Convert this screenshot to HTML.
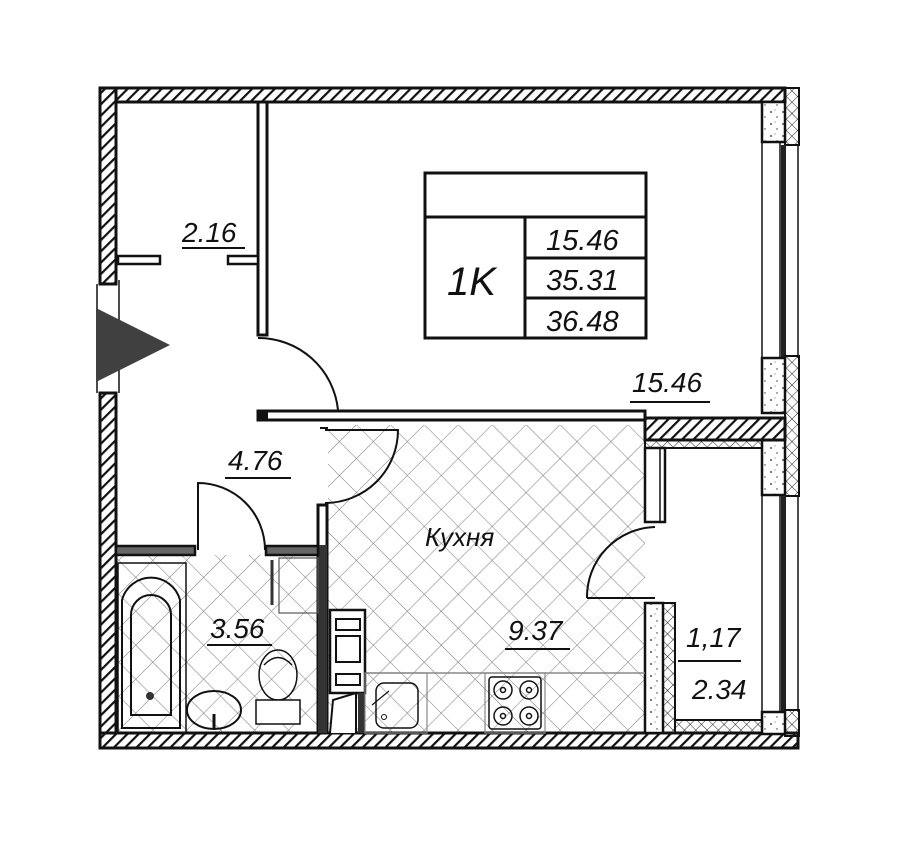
<!DOCTYPE html>
<html><head><meta charset="utf-8"><style>
html,body{margin:0;padding:0;background:#fff;}
svg{display:block;}
text{font-family:"Liberation Sans","DejaVu Sans",sans-serif;font-style:italic;fill:#111;}
</style></head><body>
<svg width="900" height="851" viewBox="0 0 900 851" xmlns="http://www.w3.org/2000/svg">
<defs>
<pattern id="h" width="8" height="8" patternUnits="userSpaceOnUse" patternTransform="rotate(45)">
<rect width="8" height="8" fill="#fff"/><rect width="2.2" height="8" fill="#111"/></pattern>
<pattern id="x" width="24" height="24" patternUnits="userSpaceOnUse" patternTransform="rotate(45)">
<path d="M0 0H24M0 0V24" stroke="#777" stroke-width="1" fill="none"/></pattern>
<pattern id="xs" width="8" height="8" patternUnits="userSpaceOnUse" patternTransform="rotate(45)">
<path d="M0 0H8M0 0V8" stroke="#222" stroke-width="1" fill="none"/></pattern>
<pattern id="c" width="12" height="12" patternUnits="userSpaceOnUse">
<rect width="12" height="12" fill="#fff"/><circle cx="3" cy="4" r="0.9" fill="#222"/><circle cx="9" cy="9" r="0.7" fill="#333"/><circle cx="7" cy="2" r="0.5" fill="#444"/></pattern>
</defs>
<rect x="328" y="425" width="317" height="308" fill="url(#x)"/>
<rect x="116" y="555" width="202" height="178" fill="url(#x)"/>
<rect x="100" y="88" width="685" height="14" fill="url(#h)" stroke="#111" stroke-width="3"/>
<rect x="100" y="88" width="16" height="196" fill="url(#h)" stroke="#111" stroke-width="3"/>
<rect x="100" y="393" width="16" height="355" fill="url(#h)" stroke="#111" stroke-width="3"/>
<path d="M97 284V393M119 280V393M100 284H116M100 393H116" stroke="#111" stroke-width="1.5" fill="none"/>
<rect x="100" y="733" width="698" height="15" fill="url(#h)" stroke="#111" stroke-width="3"/>
<rect x="785" y="88" width="14" height="57" fill="url(#xs)" stroke="#111" stroke-width="2"/>
<rect x="762" y="102" width="23" height="40" fill="url(#c)" stroke="#111" stroke-width="2.5"/>
<path d="M762 142V358M780 142V358M798 145V358" stroke="#111" stroke-width="1.5"/>
<rect x="781" y="145" width="5" height="213" fill="#222"/>
<rect x="785" y="356" width="14" height="140" fill="url(#xs)" stroke="#111" stroke-width="2"/>
<rect x="762" y="358" width="23" height="55" fill="url(#c)" stroke="#111" stroke-width="2.5"/>
<rect x="762" y="440" width="23" height="55" fill="url(#c)" stroke="#111" stroke-width="2.5"/>
<path d="M762 495V712M780 495V712M798 496V712" stroke="#111" stroke-width="1.5"/>
<rect x="781" y="496" width="5" height="216" fill="#222"/>
<rect x="785" y="710" width="14" height="26" fill="url(#xs)" stroke="#111" stroke-width="2"/>
<rect x="762" y="712" width="23" height="22" fill="url(#c)" stroke="#111" stroke-width="2.5"/>
<rect x="258" y="102" width="9" height="233" fill="#fff" stroke="#111" stroke-width="3"/>
<rect x="118" y="256" width="42" height="8" fill="#fff" stroke="#111" stroke-width="2.5"/>
<rect x="228" y="256" width="30" height="8" fill="#fff" stroke="#111" stroke-width="2.5"/>
<path d="M258 338A80 80 0 0 1 338 410" stroke="#111" stroke-width="2" fill="none"/>
<rect x="258" y="411" width="387" height="9" fill="#fff" stroke="#111" stroke-width="3"/>
<rect x="258" y="411" width="10" height="9" fill="#111"/>
<rect x="645" y="418" width="140" height="22" fill="url(#h)" stroke="#111" stroke-width="3"/>
<rect x="645" y="440" width="117" height="8" fill="url(#xs)" stroke="#111" stroke-width="2"/>
<rect x="645" y="448" width="20" height="74" fill="#fff" stroke="#111" stroke-width="2.5"/>
<path d="M660 448V522" stroke="#111" stroke-width="1.5"/>
<path d="M320 428H328M325 430H398A73 73 0 0 1 325 503" stroke="#111" stroke-width="2" fill="none"/>
<rect x="318" y="505" width="9" height="228" fill="#fff" stroke="#111" stroke-width="3"/>
<rect x="318" y="545" width="9" height="188" fill="#333"/>
<rect x="116" y="546" width="79" height="9" fill="#666" stroke="#111" stroke-width="2.5"/>
<rect x="266" y="546" width="52" height="9" fill="#666" stroke="#111" stroke-width="2.5"/>
<path d="M198 550V483A67 67 0 0 1 265 550" stroke="#111" stroke-width="2" fill="none"/>
<rect x="645" y="603" width="18" height="130" fill="url(#c)" stroke="#111" stroke-width="2.5"/>
<rect x="663" y="603" width="12" height="130" fill="url(#xs)" stroke="#111" stroke-width="2"/>
<rect x="675" y="720" width="87" height="13" fill="url(#xs)" stroke="#111" stroke-width="2"/>
<path d="M587 598H655M587 598A70 70 0 0 1 655 527" stroke="#111" stroke-width="2" fill="none"/>
<polygon points="96,308 170,345 96,382" fill="#404040"/>
<g stroke="#111" stroke-width="3" fill="none">
<rect x="425" y="173" width="221" height="165"/>
<path d="M425 217H646M525 217V338M525 258H646M525 298H646"/>
</g>
<text x="447" y="295" font-size="40">1K</text>
<text x="546" y="250" font-size="29">15.46</text>
<text x="546" y="290" font-size="29">35.31</text>
<text x="546" y="331" font-size="29">36.48</text>
<path d="M365 673H645" stroke="#888" stroke-width="1.5"/>
<rect x="330" y="610" width="35" height="83" fill="#fff" stroke="#111" stroke-width="2.5"/>
<rect x="336" y="619" width="24" height="11" fill="#fff" stroke="#111" stroke-width="2"/>
<rect x="336" y="636" width="24" height="26" fill="#fff" stroke="#111" stroke-width="2"/>
<rect x="336" y="674" width="24" height="11" fill="#fff" stroke="#111" stroke-width="2"/>
<path d="M330 733L333 700L356 693V733" stroke="#111" stroke-width="2" fill="#fff"/>
<rect x="358" y="693" width="7" height="40" fill="#333"/>
<rect x="365" y="673" width="62" height="60" fill="none" stroke="#888" stroke-width="1.2"/>
<rect x="376" y="683" width="42" height="45" rx="8" fill="none" stroke="#111" stroke-width="1.5"/>
<path d="M372 705L389 691" stroke="#111" stroke-width="1.2"/>
<circle cx="384" cy="717" r="2.5" fill="none" stroke="#111"/>
<rect x="485" y="673" width="60" height="60" fill="none" stroke="#888" stroke-width="1.2"/>
<rect x="489" y="677" width="52" height="52" rx="3" fill="none" stroke="#111" stroke-width="1.5"/>
<g fill="none" stroke="#111" stroke-width="1.5">
<circle cx="503" cy="690" r="9"/><circle cx="529" cy="690" r="9"/><circle cx="503" cy="716" r="9"/><circle cx="529" cy="716" r="9"/>
<circle cx="503" cy="690" r="2.5"/><circle cx="529" cy="690" r="2.5"/><circle cx="503" cy="716" r="2.5"/><circle cx="529" cy="716" r="2.5"/>
</g>
<rect x="118" y="563" width="68" height="170" fill="none" stroke="#111" stroke-width="1.5"/>
<path d="M122 728V600A30 30 0 0 1 180 600V728Z" fill="none" stroke="#111" stroke-width="2"/>
<path d="M131 715V615A20 20 0 0 1 171 615V715Z" fill="none" stroke="#111" stroke-width="2"/>
<circle cx="150" cy="696" r="4" fill="#333"/>
<ellipse cx="214" cy="710" rx="27" ry="19" fill="none" stroke="#111" stroke-width="2"/>
<path d="M214 714V728" stroke="#111" stroke-width="3"/>
<ellipse cx="278" cy="675" rx="19" ry="25" fill="none" stroke="#111" stroke-width="1.5"/>
<path d="M264 665Q278 650 292 665" fill="none" stroke="#111" stroke-width="1.5"/>
<rect x="256" y="700" width="44" height="24" fill="#fff" stroke="#111" stroke-width="1.5"/>
<rect x="279" y="558" width="39" height="55" fill="none" stroke="#555" stroke-width="1.2"/>
<path d="M272 560V605" stroke="#333" stroke-width="3"/>
<text x="182" y="242" font-size="28">2.16</text>
<path d="M182 248H245" stroke="#111" stroke-width="2"/>
<text x="632" y="392" font-size="28">15.46</text>
<path d="M630 402H710" stroke="#111" stroke-width="2"/>
<text x="228" y="470" font-size="28">4.76</text>
<path d="M225 478H291" stroke="#111" stroke-width="2"/>
<text x="425" y="546" font-size="26">Кухня</text>
<text x="210" y="638" font-size="28">3.56</text>
<path d="M207 645H272" stroke="#111" stroke-width="2"/>
<text x="508" y="640" font-size="28">9.37</text>
<path d="M505 649H570" stroke="#111" stroke-width="2"/>
<text x="686" y="647" font-size="28">1,17</text>
<path d="M678 661H741" stroke="#111" stroke-width="2"/>
<text x="692" y="699" font-size="28">2.34</text>
</svg>
</body></html>
